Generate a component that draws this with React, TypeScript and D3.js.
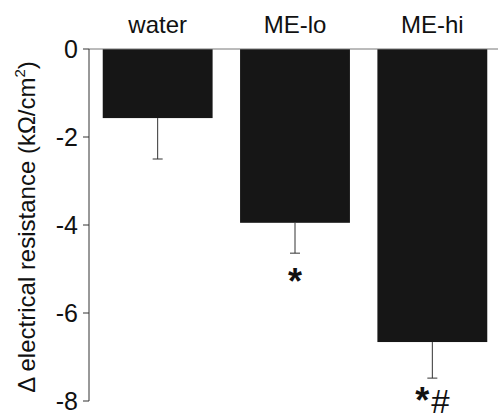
import React from "react";
import * as d3 from "d3";

// groups and values
const groups = ["water", "ME-lo", "ME-hi"];
const means = [-1.57, -3.95, -6.66];
const errors = [0.93, 0.69, 0.82];
const marks = ["", "*", "*#"];
const yTicks = [0, -2, -4, -6, -8];

const width = 498;
const height = 418;
const margin = { left: 89, top: 49, bottom: 17 };
const font = "'Liberation Sans', Arial, sans-serif";

export default function App() {
  const x = d3.scaleBand().domain(groups).range([margin.left, 501]).paddingInner(0.2).paddingOuter(0.1);
  const y = d3.scaleLinear().domain([0, -8]).range([margin.top, height - margin.bottom]);

  return (
    <div style={{ position: "fixed", left: 0, top: 0 }}>
      <svg width={width} height={height} style={{ display: "block", background: "#fff" }} fontFamily={font}>
        {/* bars */}
        {groups.map((g, i) => (
          <rect key={g} x={x(g)} y={y(0)} width={x.bandwidth()} height={y(means[i]) - y(0)} fill="#161616" />
        ))}

        {/* error bars */}
        {groups.map((g, i) => {
          const cx = (x(g) as number) + x.bandwidth() / 2;
          const low = y(means[i] - errors[i]);
          return (
            <g key={g + "-err"} stroke="#333" strokeWidth={1}>
              <line x1={cx} x2={cx} y1={y(means[i])} y2={low} />
              <line x1={cx - 5} x2={cx + 5} y1={low} y2={low} />
            </g>
          );
        })}

        {/* zero line */}
        <line x1={margin.left} x2={width} y1={y(0)} y2={y(0)} stroke="#777" strokeWidth={1} />

        {/* y axis */}
        <line x1={margin.left} x2={margin.left} y1={y(0)} y2={y(-8)} stroke="#333" strokeWidth={1} />
        {yTicks.map((t) => (
          <g key={t}>
            <line x1={margin.left - 6} x2={margin.left} y1={y(t)} y2={y(t)} stroke="#333" />
            <text x={margin.left - 11} y={y(t)} dy="0.35em" textAnchor="end" fontSize={25} fill="#111">
              {d3.format("d")(t).replace("−", "-")}
            </text>
          </g>
        ))}

        {/* category labels */}
        {groups.map((g) => (
          <text key={g + "-lab"} x={(x(g) as number) + x.bandwidth() / 2} y={33} textAnchor="middle" fontSize={24} fill="#111">
            {g}
          </text>
        ))}

        {/* significance marks */}
        {groups.map((g, i) =>
          marks[i] ? (
            <text key={g + "-sig"} x={(x(g) as number) + x.bandwidth() / 2} y={Math.min(y(means[i] - errors[i]) + 41, height - 5)} textAnchor="middle" fill="#111">
              {marks[i].split("").map((c, k) => (
                <tspan key={k} fontWeight={c === "*" ? "bold" : "normal"} fontSize={c === "*" ? 36 : 33} dx={k > 0 ? 2 : 0}>{c}</tspan>
              ))}
            </text>
          ) : null
        )}

        {/* y title */}
        <text transform={`translate(35, 227) rotate(-90)`} textAnchor="middle" fontSize={24} fill="#111">
          Δ electrical resistance (kΩ/cm<tspan fontSize={15} dy={-10}>2</tspan><tspan dy={10}>)</tspan>
        </text>
      </svg>
    </div>
  );
}
